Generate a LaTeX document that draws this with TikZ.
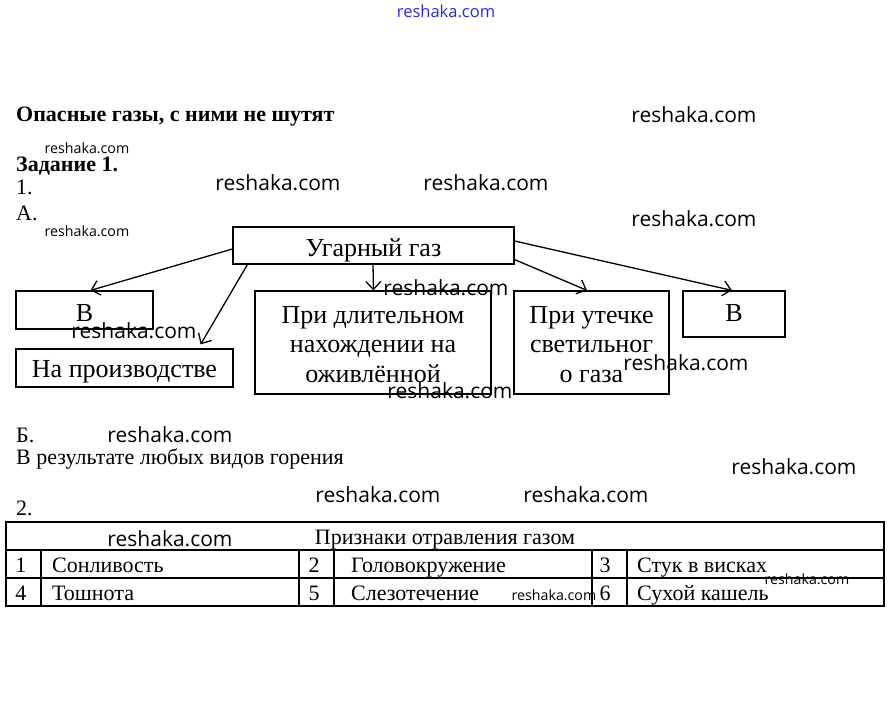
\documentclass[tikz,border=0pt]{standalone}
\usepackage{fontspec}
\setmainfont{Liberation Serif}
\newfontfamily\wmfont{Open Sans}
\usetikzlibrary{arrows.meta}
\definecolor{wmblue}{RGB}{40,40,235}
\tikzset{
  x=1pt, y=-1pt,
  txt/.style={anchor=base west, inner sep=0pt, font=\fontsize{22}{26}\selectfont},
  btxt/.style={anchor=base west, inner sep=0pt, font=\fontsize{22}{26}\selectfont\bfseries},
  wm/.style={inner sep=0pt, font=\wmfont\fontsize{21}{24}\selectfont},
  wms/.style={inner sep=0pt, font=\wmfont\fontsize{14.2}{16}\selectfont},
  box/.style={draw, line width=1.2pt, inner sep=0pt},
  boxtxt/.style={inner sep=0pt, anchor=base, font=\fontsize{26}{29.5}\selectfont, align=center},
  arr/.style={line width=1.3pt, -{Straight Barb[length=8pt,width=15pt,line width=1.3pt]}},
  tline/.style={line width=1.1pt},
  ttxt/.style={anchor=base west, inner sep=0pt, font=\fontsize{22}{26}\selectfont},
  tnum/.style={anchor=base, inner sep=0pt, font=\fontsize{22}{26}\selectfont},
}
\begin{document}
\begin{tikzpicture}
\useasboundingbox[fill=white] (0,0) rectangle (892,708);

% watermark top
\node[inner sep=0pt, font=\wmfont\fontsize{16.5}{18}\selectfont, text=wmblue] (wtop) at (446,11) {reshaka.com};

% headings
\node[btxt] (title) at (16,122) {Опасные газы, с ними не шутят};
\node[btxt] (task) at (16,172) {Задание 1.};
\node[txt] (n1) at (16,195) {1.};
\node[txt] (na) at (16,221) {А.};
\node[txt] (nb) at (16,443) {Б.};
\node[txt] (ans) at (16,465) {В результате любых видов горения};
\node[txt] (n2) at (16,515) {2.};

% boxes
\node[box, minimum width=281pt, minimum height=37pt] (ug) at (373.5,245.5) {};
\node[boxtxt] (ugt) at (373.5,257) {Угарный газ};
\node[box, minimum width=137pt, minimum height=38pt] (bl) at (84.5,310) {};
\node[boxtxt] (blt) at (84.5,322) {В};
\node[box, minimum width=217pt, minimum height=38pt] (prod) at (124.5,368) {};
\node[boxtxt] (prodt) at (124.5,378) {На производстве};
\node[box, minimum width=236pt, minimum height=103pt] (dl) at (373,342.5) {};
\node[boxtxt, anchor=north] (dlt) at (373,306) {При длительном\\нахождении на\\оживлённой};
\node[box, minimum width=155pt, minimum height=103pt] (ut) at (591.5,342.5) {};
\node[boxtxt, anchor=north] (utt) at (591.5,306) {При утечке\\светильног\\о газа};
\node[box, minimum width=102pt, minimum height=46pt] (br) at (734,314) {};
\node[boxtxt] (brt) at (734,322) {В};

% arrows
\draw[arr] ([yshift=-3.5pt]ug.west) -- ([xshift=6pt]bl.north);
\draw[arr] ([xshift=15pt]ug.south west) -- ([xshift=-33pt,yshift=4pt]prod.north east);
\draw[arr] ([xshift=-0.5pt]ug.south) -- ([xshift=0.5pt]dl.north);
\draw[arr] ([yshift=5pt]ug.south east) -- ([xshift=-4.5pt]ut.north);
\draw[arr] ([yshift=4.5pt]ug.east) -- ([xshift=-2pt]br.north);

% table
\draw[tline] (6,522) rectangle (884,606);
\draw[tline] (6,550) -- (884,550);
\draw[tline] (6,578) -- (884,578);
\foreach \cx in {41,299,334,592,627}{\draw[tline] (\cx,550) -- (\cx,606);}
\node[anchor=base, inner sep=0pt, font=\fontsize{22}{26}\selectfont] (th) at (445,544) {Признаки отравления газом};
\node[tnum] (t1) at (21,572) {1};
\node[ttxt] (s1) at (52,572) {Сонливость};
\node[tnum] (t2) at (314,572) {2};
\node[ttxt] (s2) at (351,572) {Головокружение};
\node[tnum] (t3) at (605,572) {3};
\node[ttxt] (s3) at (637,572) {Стук в висках};
\node[tnum] (t4) at (21,600) {4};
\node[ttxt] (s4) at (52,600) {Тошнота};
\node[tnum] (t5) at (314,600) {5};
\node[ttxt] (s5) at (351,600) {Слезотечение};
\node[tnum] (t6) at (605,600) {6};
\node[ttxt] (s6) at (637,600) {Сухой кашель};

% watermarks
\node[wm] (w1) at (694,115) {reshaka.com};
\node[wm] (w2) at (278,183) {reshaka.com};
\node[wm] (w3) at (486,183) {reshaka.com};
\node[wm] (w4) at (694,219) {reshaka.com};
\node[wm] (w5) at (446,288) {reshaka.com};
\node[wm] (w6) at (134,331) {reshaka.com};
\node[wm] (w7) at (686,363) {reshaka.com};
\node[wm] (w8) at (450,391) {reshaka.com};
\node[wm] (w9) at (170,435) {reshaka.com};
\node[wm] (w10) at (794,467) {reshaka.com};
\node[wm] (w11) at (378,495) {reshaka.com};
\node[wm] (w12) at (586,495) {reshaka.com};
\node[wm] (w13) at (170,539) {reshaka.com};
\node[wms] (ws1) at (87,148) {reshaka.com};
\node[wms] (ws2) at (87,231) {reshaka.com};
\node[wms] (ws3) at (807,579) {reshaka.com};
\node[wms] (ws4) at (554,595) {reshaka.com};
\end{tikzpicture}
\end{document}
